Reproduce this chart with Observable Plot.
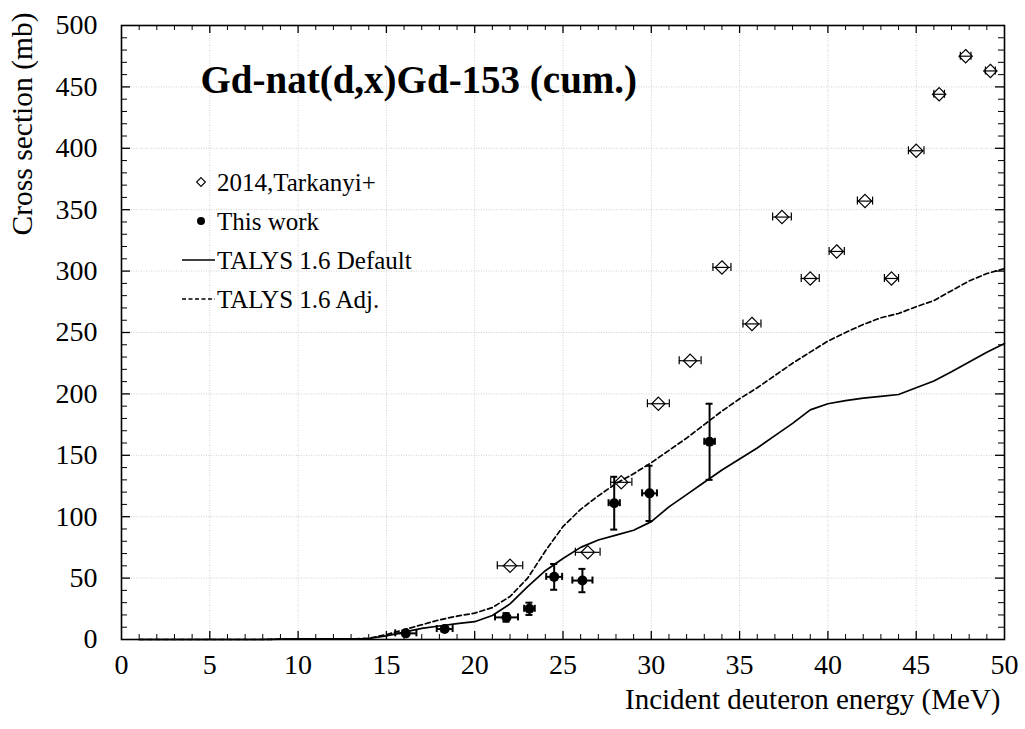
<!DOCTYPE html>
<html>
<head>
<meta charset="utf-8">
<script src="https://cdn.jsdelivr.net/npm/d3@7"></script>
<script src="https://cdn.jsdelivr.net/npm/@observablehq/plot@0.6"></script>
<style>
  body { margin: 0; background: #fff; }
  #chart { width: 1025px; height: 729px; }
</style>
</head>
<body>
<div id="chart"></div>
<script>
// ---------- data ----------
const chartTitle = "Gd-nat(d,x)Gd-153 (cum.)";
const xLabel = "Incident deuteron energy (MeV)";
const yLabel = "Cross section (mb)";
const legendLabels = ["2014,Tarkanyi+", "This work", "TALYS 1.6 Default", "TALYS 1.6 Adj."];

// 2014, Tarkanyi+ (open diamonds)
const tarkE    = [22.0, 26.4, 28.3, 30.4, 32.2, 34.0, 35.7, 37.4, 39.0, 40.5, 42.1, 43.6, 45.0, 46.3, 47.8, 49.2];
const tarkXS   = [60, 71, 128, 192, 227, 303, 257, 344, 294, 316, 357, 294, 398, 444, 475, 463];
const tarkEErr = [0.72, 0.70, 0.60, 0.62, 0.62, 0.51, 0.51, 0.53, 0.51, 0.43, 0.43, 0.40, 0.44, 0.30, 0.30, 0.28];

// This work (filled circles)
const workE     = [16.1, 18.3, 21.8, 23.1, 24.5, 26.1, 27.9, 29.9, 33.3];
const workXS    = [5, 8.5, 18, 25, 51, 48, 111, 119, 161];
const workXSErr = [2, 2, 3.5, 5, 10.5, 9.5, 21.5, 22.5, 31];
const workEErr  = [0.6, 0.45, 0.65, 0.3, 0.45, 0.57, 0.32, 0.42, 0.3];

// TALYS curves
const talysE = [1,2,3,4,5,6,7,8,9,10,11,12,13,14,15,16,17,18,19,20,21,22,23,24,25,26,27,28,29,30,31,32,33,34,35,36,37,38,39,40,41,42,43,44,45,46,47,48,49,50];
const talysDefault = [0,0,0,0,0,0,0,0,0.3,0.5,0.5,0.5,0.5,0.8,3,6,9,11,13,14.5,19.5,29,43,56,66,75,81,85,89,96,108,118,128,138,147,156,166,176,187,192,194.5,196.5,198,199.5,205,210.5,218,226,234,241];
const talysAdj     = [0,0,0,0,0,0,0,0,0.3,0.5,0.5,0.5,0.5,1,4,8,12,16,19,21.5,26,35,50,72,92,106,117,127,135,144,154,164,175,186,196,205,215,225,234,243,250,256.5,262,265.5,271,276,284,292,298,302];

// tick values
const xMajor = [0, 5, 10, 15, 20, 25, 30, 35, 40, 45, 50];
const yMajor = [0, 50, 100, 150, 200, 250, 300, 350, 400, 450, 500];

// ---------- tables ----------
const tark = tarkE.map((e, i) => ({e, xs: tarkXS[i], de: tarkEErr[i]}));
const work = workE.map((e, i) => ({e, xs: workXS[i], dxs: workXSErr[i], de: workEErr[i]}));
const talys = talysE.map((e, i) => ({e, def: talysDefault[i], adj: talysAdj[i]}));

const xMinor = d3.range(1, 50).filter(v => v % 5 !== 0);
const xInner = xMajor.filter(v => v > 0 && v < 50);
const yMinor = d3.range(10, 500, 10).filter(v => v % 50 !== 0);
const yInner = yMajor.filter(v => v > 0 && v < 500);

const FONT = "'Liberation Serif', 'Times New Roman', Times, serif";
const GRID = {stroke: "#cfcfcf", strokeOpacity: 1, strokeDasharray: "1,1.5"};

const plot = Plot.plot({
  width: 1025,
  height: 729,
  marginLeft: 121,
  marginRight: 21,
  marginTop: 25,
  marginBottom: 90,
  style: {fontFamily: FONT, background: "white", color: "black"},
  x: {domain: [0, 50]},
  y: {domain: [0, 500]},
  marks: [
    Plot.gridX(xInner, GRID),
    Plot.gridY(yInner, GRID),
    Plot.axisX(xMajor, {anchor: "bottom", tickSize: 0, tickPadding: 15, fontSize: 28, label: null}),
    Plot.axisY(yMajor, {anchor: "left", tickSize: 0, tickPadding: 24, fontSize: 28, label: null}),
    // inward ticks: bottom / top
    Plot.ruleX(xMinor, {x: d => d, y1: 0, y2: 0, insetTop: -5, stroke: "black"}),
    Plot.ruleX(xInner, {x: d => d, y1: 0, y2: 0, insetTop: -8, stroke: "black", strokeWidth: 1.3}),
    Plot.ruleX(xMinor, {x: d => d, y1: 500, y2: 500, insetBottom: -5, stroke: "black"}),
    Plot.ruleX(xInner, {x: d => d, y1: 500, y2: 500, insetBottom: -8, stroke: "black", strokeWidth: 1.3}),
    // inward ticks: left / right
    Plot.ruleY(yMinor, {y: d => d, x1: 0, x2: 0, insetRight: -6, stroke: "black"}),
    Plot.ruleY(yInner, {y: d => d, x1: 0, x2: 0, insetRight: -9, stroke: "black", strokeWidth: 1.3}),
    Plot.ruleY(yMinor, {y: d => d, x1: 50, x2: 50, insetLeft: -6, stroke: "black"}),
    Plot.ruleY(yInner, {y: d => d, x1: 50, x2: 50, insetLeft: -9, stroke: "black", strokeWidth: 1.3}),

    // TALYS curves
    Plot.line(talys, {x: "e", y: "def", stroke: "black", strokeWidth: 1.7}),
    Plot.line(talys, {x: "e", y: "adj", stroke: "black", strokeWidth: 1.7, strokeDasharray: "5,3"}),

    // Tarkanyi: horizontal error bars + caps + diamonds
    Plot.ruleY(tark, {y: "xs", x1: d => d.e - d.de, x2: d => d.e + d.de, stroke: "black", strokeWidth: 1.2}),
    Plot.ruleX(tark, {x: d => d.e - d.de, y1: "xs", y2: "xs", insetTop: -4, insetBottom: -4, stroke: "black", strokeWidth: 1.2}),
    Plot.ruleX(tark, {x: d => d.e + d.de, y1: "xs", y2: "xs", insetTop: -4, insetBottom: -4, stroke: "black", strokeWidth: 1.2}),
    Plot.dot(tark, {x: "e", y: "xs", symbol: "diamond2", r: 6, stroke: "black", fill: "none", strokeWidth: 1.2}),

    // This work: error bars + caps + dots
    Plot.ruleX(work, {x: "e", y1: d => d.xs - d.dxs, y2: d => d.xs + d.dxs, stroke: "black", strokeWidth: 2}),
    Plot.ruleY(work, {y: d => d.xs - d.dxs, x1: "e", x2: "e", insetLeft: -3.5, insetRight: -3.5, stroke: "black", strokeWidth: 2}),
    Plot.ruleY(work, {y: d => d.xs + d.dxs, x1: "e", x2: "e", insetLeft: -3.5, insetRight: -3.5, stroke: "black", strokeWidth: 2}),
    Plot.ruleY(work, {y: "xs", x1: d => d.e - d.de, x2: d => d.e + d.de, stroke: "black", strokeWidth: 2}),
    Plot.ruleX(work, {x: d => d.e - d.de, y1: "xs", y2: "xs", insetTop: -3.5, insetBottom: -3.5, stroke: "black", strokeWidth: 2}),
    Plot.ruleX(work, {x: d => d.e + d.de, y1: "xs", y2: "xs", insetTop: -3.5, insetBottom: -3.5, stroke: "black", strokeWidth: 2}),
    Plot.dot(work, {x: "e", y: "xs", r: 5, fill: "black", stroke: "none"}),

    Plot.frame({stroke: "black", strokeWidth: 1.6}),

    // title and axis labels
    Plot.text([chartTitle], {frameAnchor: "top-left", dx: 79, dy: 67, textAnchor: "start", lineAnchor: "bottom", fontSize: 39, fontWeight: "bold", fontFamily: FONT, fill: "black"}),
    Plot.text([xLabel], {frameAnchor: "bottom-right", dx: -4, dy: 69, textAnchor: "end", lineAnchor: "bottom", fontSize: 29, fontFamily: FONT, fill: "black"}),
    Plot.text([yLabel], {frameAnchor: "top-left", dx: -99, dy: -13, rotate: -90, textAnchor: "end", lineAnchor: "middle", fontSize: 29.5, fontFamily: FONT, fill: "black"})
  ]
});

document.getElementById("chart").appendChild(plot);

// ---------- legend (inside plot, top-left) ----------
const svg = d3.select(plot);
const lg = svg.append("g").attr("font-family", FONT).attr("font-size", 25).attr("fill", "black").attr("text-anchor", "start");
const lgX = 201, lgTextX = 217, lgY0 = 182, lgStep = 39;
legendLabels.forEach((label, i) => {
  const cy = lgY0 + i * lgStep;
  if (i === 0) {
    lg.append("path").attr("d", d3.symbol(d3.symbolDiamond2, 50)())
      .attr("transform", `translate(${lgX},${cy})`).attr("fill", "white").attr("stroke", "black").attr("stroke-width", 1.1);
  } else if (i === 1) {
    lg.append("circle").attr("cx", lgX).attr("cy", cy).attr("r", 4).attr("fill", "black");
  } else {
    lg.append("line").attr("x1", 182).attr("x2", 215).attr("y1", cy).attr("y2", cy)
      .attr("stroke", "black").attr("stroke-width", 1.5)
      .attr("stroke-dasharray", i === 3 ? "4,2.5" : null);
  }
  lg.append("text").attr("x", lgTextX).attr("y", cy).attr("dy", "0.35em").attr("text-anchor", "start").text(label);
});
</script>
</body>
</html>
